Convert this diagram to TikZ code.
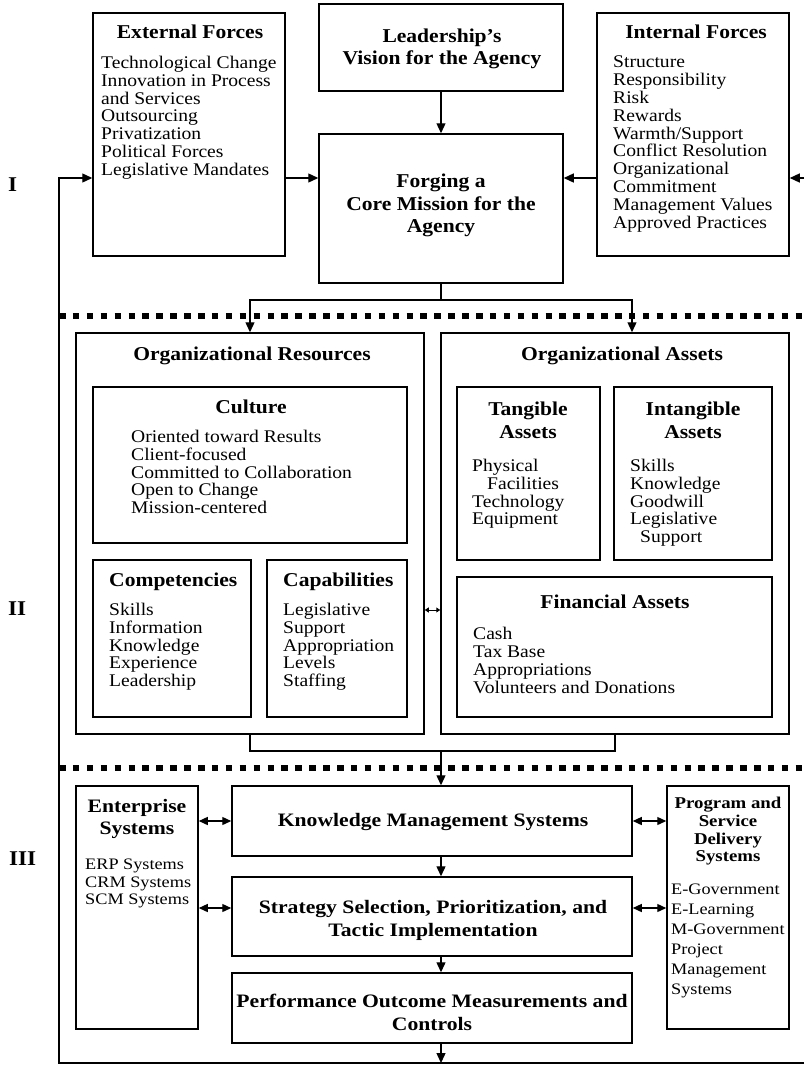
\documentclass[tikz,border=0pt]{standalone}
\usepackage{fontspec}
\setmainfont{Liberation Serif}
\newfontfamily\minfam[FakeStretch=1.1]{Liberation Serif}
\newfontfamily\sysfam[FakeStretch=1.14]{Liberation Serif}
\usetikzlibrary{arrows.meta}
\newcommand\bodyI{\minfam\fontsize{17.8}{17.8}\selectfont}
\newcommand\headI{\minfam\bfseries\fontsize{19.6}{22.5}\selectfont}
\newcommand\bodyIII{\sysfam\fontsize{16}{17.5}\selectfont}
\newcommand\headIII{\sysfam\bfseries\fontsize{19}{22.7}\selectfont}
\newcommand\headP{\sysfam\bfseries\fontsize{16.5}{17.8}\selectfont}
\newcommand\bodyP{\sysfam\fontsize{16}{20}\selectfont}
\newcommand\secfont{\minfam\bfseries\fontsize{21}{21}\selectfont}
\begin{document}
\begin{tikzpicture}[x=1pt,y=-1pt,
  box/.style={draw, line width=1.5pt, inner sep=0pt},
  conn/.style={line width=1.3pt},
  arr/.style={conn, -{Triangle[length=10pt,width=9pt]}},
  darr/.style={conn, {Triangle[length=9pt,width=8pt]}-{Triangle[length=9pt,width=8pt]}},
  sdarr/.style={line width=1pt, {Triangle[length=4pt,width=5pt]}-{Triangle[length=4pt,width=5pt]}},
  sep/.style={line width=5.5pt, dash pattern=on 6.5pt off 7.4pt},
  txt/.style={inner sep=0pt, align=left, anchor=north west, font=\bodyI},
  ttl/.style={inner sep=0pt, align=center, font=\headI},
  txtS/.style={inner sep=0pt, align=left, anchor=north west, font=\bodyIII},
  ttlS/.style={inner sep=0pt, align=center, font=\headIII},
  ttlP/.style={inner sep=0pt, align=center, font=\headP},
  txtP/.style={inner sep=0pt, align=left, anchor=north west, font=\bodyP},
  sect/.style={inner sep=0pt, anchor=base west, font=\secfont}]
\useasboundingbox (0,0) rectangle (804,1065);

% guide coordinates for connector routes
\coordinate (spine) at (441,0);
\coordinate (rowI) at (0,178);
\coordinate (edgeR) at (804,178);
\coordinate (splitY) at (0,300);
\coordinate (resX) at (250,0);
\coordinate (assX) at (632,0);
\coordinate (assX2) at (615,0);
\coordinate (linkII) at (0,610);
\coordinate (mergeY) at (0,751);
\coordinate (rowS) at (0,908);
\coordinate (fbR) at (804,1063);
\coordinate (fbL) at (59,1063);

% section separators
\draw[sep] (59,316) -- (804,316);
\draw[sep] (59,768) -- (804,768);

% section labels
\node[sect] (secI) at (8,191) {I};
\node[sect] (secII) at (8,615) {II};
\node[sect] (secIII) at (9,865) {III};

% ---- Section I ----
\node[box, minimum width=192pt, minimum height=243pt] (ext) at (189,134.5) {};
\node[box, minimum width=244pt, minimum height=87pt] (lead) at (441,47.5) {};
\node[box, minimum width=244pt, minimum height=149pt] (forge) at (441,208.5) {};
\node[box, minimum width=192pt, minimum height=243pt] (intf) at (693,134.5) {};

\node[ttl, anchor=base] (extT) at (190,38) {External Forces};
\node[txt] (extL) at (101,55.9) {Technological Change\\Innovation in Process\\and Services\\Outsourcing\\Privatization\\Political Forces\\Legislative Mandates};
\node[ttl, anchor=north] (leadT) at (442,28.4) {Leadership’s\\Vision for the Agency};
\node[ttl, anchor=north] (forgeT) at (441,173.7) {Forging a\\Core Mission for the\\Agency};
\node[ttl, anchor=base] (intT) at (696,38) {Internal Forces};
\node[txt] (intL) at (613,55.9) {Structure\\Responsibility\\Risk\\Rewards\\Warmth/Support\\Conflict Resolution\\Organizational\\Commitment\\Management Values\\Approved Practices};

% ---- Section II ----
\node[box, minimum width=348pt, minimum height=401pt] (orgres) at (250,533.5) {};
\node[box, minimum width=348pt, minimum height=401pt] (orgass) at (615,533.5) {};
\node[box, minimum width=314pt, minimum height=156pt] (cult) at (250,465) {};
\node[box, minimum width=158pt, minimum height=157pt] (comp) at (172,638.5) {};
\node[box, minimum width=140pt, minimum height=157pt] (capab) at (337,638.5) {};
\node[box, minimum width=143pt, minimum height=173pt] (tang) at (528.5,473.5) {};
\node[box, minimum width=158pt, minimum height=173pt] (intang) at (693,473.5) {};
\node[box, minimum width=315pt, minimum height=140pt] (fin) at (614.5,647) {};

\node[ttl, anchor=base] (orgresT) at (252,360) {Organizational Resources};
\node[ttl, anchor=base] (orgassT) at (622,360) {Organizational Assets};
\node[ttl, anchor=base] (cultT) at (251,413) {Culture};
\node[txt] (cultL) at (131,429.9) {Oriented toward Results\\Client-focused\\Committed to Collaboration\\Open to Change\\Mission-centered};
\node[ttl, anchor=base west] (compT) at (109,586) {Competencies};
\node[txt] (compL) at (109,602.9) {Skills\\Information\\Knowledge\\Experience\\Leadership};
\node[ttl, anchor=base west] (capabT) at (283,586) {Capabilities};
\node[txt] (capabL) at (283,602.9) {Legislative\\Support\\Appropriation\\Levels\\Staffing};
\node[ttl, anchor=north] (tangT) at (528,401.7) {Tangible\\Assets};
\node[txt] (tangL) at (472,458.9) {Physical\\\hspace*{15pt}Facilities\\Technology\\Equipment};
\node[ttl, anchor=north] (intangT) at (693,401.7) {Intangible\\Assets};
\node[txt] (intangL) at (630,458.9) {Skills\\Knowledge\\Goodwill\\Legislative\\\hspace*{10pt}Support};
\node[ttl, anchor=base] (finT) at (615,608) {Financial Assets};
\node[txt] (finL) at (473,627.4) {Cash\\Tax Base\\Appropriations\\Volunteers and Donations};

% ---- Section III ----
\node[box, minimum width=122pt, minimum height=243pt] (ent) at (137,907.5) {};
\node[box, minimum width=400pt, minimum height=70pt] (kms) at (432,821) {};
\node[box, minimum width=400pt, minimum height=79pt] (strat) at (432,916.5) {};
\node[box, minimum width=400pt, minimum height=70pt] (perf) at (432,1008) {};
\node[box, minimum width=122pt, minimum height=243pt] (prog) at (728,907.5) {};

\node[ttlS, anchor=north] (entT) at (137,798.8) {Enterprise\\Systems};
\node[txtS] (entL) at (85,859.1) {ERP Systems\\CRM Systems\\SCM Systems};
\node[ttlS, anchor=base] (kmsT) at (433,826) {Knowledge Management Systems};
\node[ttlS, anchor=north] (stratT) at (433,900.4) {Strategy Selection, Prioritization, and\\Tactic Implementation};
\node[ttlS, anchor=north] (perfT) at (432,993.8) {Performance Outcome Measurements and\\Controls};
\node[ttlP, anchor=north] (progT) at (728,796.8) {Program and\\Service\\Delivery\\Systems};
\node[txtP] (progL) at (671,884.1) {E-Government\\E-Learning\\M-Government\\Project\\Management\\Systems};

% ---- connectors ----
\draw[arr] (lead.south) -- (forge.north);
\draw[arr] (ext.east |- rowI) -- (forge.west |- rowI);
\draw[arr] (intf.west |- rowI) -- (forge.east |- rowI);
\draw[arr] (edgeR) -- (intf.east |- rowI);

\draw[arr] (forge.south -| spine) -- (spine |- splitY) -| (orgres.north -| resX);
\draw[arr] (spine |- splitY) -| (orgass.north -| assX);

\draw[sdarr] (orgres.east |- linkII) -- (orgass.west |- linkII);

\draw[conn] (orgres.south -| resX) |- (assX2 |- mergeY) -- (orgass.south -| assX2);
\draw[arr] (spine |- mergeY) -- (kms.north -| spine);

\draw[darr] (ent.east |- kms.west) -- (kms.west);
\draw[darr] (ent.east |- rowS) -- (strat.west |- rowS);
\draw[darr] (kms.east) -- (prog.west |- kms.east);
\draw[darr] (strat.east |- rowS) -- (prog.west |- rowS);
\draw[arr] (kms.south -| spine) -- (strat.north -| spine);
\draw[arr] (strat.south -| spine) -- (perf.north -| spine);
\draw[arr] (perf.south -| spine) -- (spine |- fbR);

% feedback loop back to the external forces
\draw[arr] (fbR) -- (fbL) |- (ext.west |- rowI);
\end{tikzpicture}
\end{document}
